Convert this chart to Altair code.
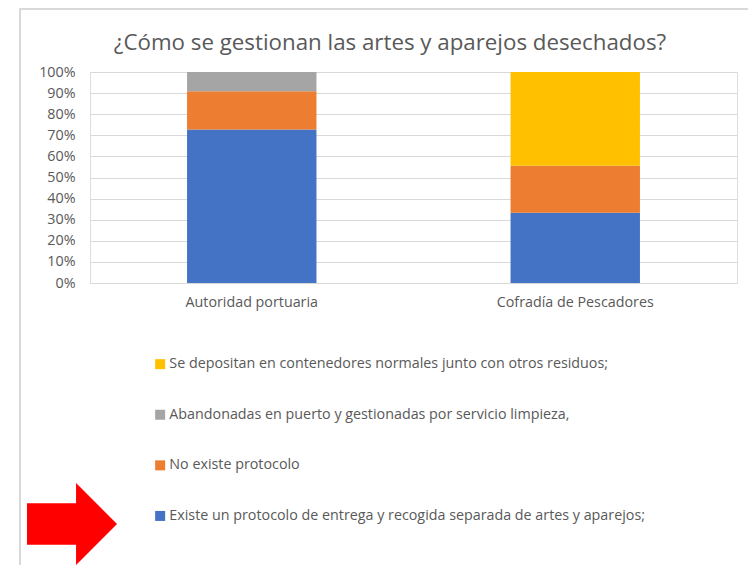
import altair as alt
import pandas as pd

categories = ["Autoridad portuaria", "Cofradía de Pescadores"]
series = [
    "Existe un protocolo de entrega y recogida separada de artes y aparejos;",
    "No existe protocolo",
    "Abandonadas en puerto y gestionadas por servicio limpieza,",
    "Se depositan en contenedores normales junto con otros residuos;",
]
values_existe = [72.7, 33.3]
values_no_existe = [18.2, 22.2]
values_abandonadas = [9.1, 0.0]
values_depositan = [0.0, 44.4]
colors = ["#4472C4", "#ED7D31", "#A5A5A5", "#FFC000"]
title_text = "¿Cómo se gestionan las artes y aparejos desechados?"

all_vals = [values_existe, values_no_existe, values_abandonadas, values_depositan]
rows = []
for si, (name, vals) in enumerate(zip(series, all_vals)):
    for cat, v in zip(categories, vals):
        rows.append({"cat": cat, "serie": name, "valor": v, "orden": si})
df = pd.DataFrame(rows)

legend_domain = list(reversed(series))
legend_range = list(reversed(colors))

FONT = "Open Sans"
TXT = "#595959"
GRID = "#d9d9d9"
FS = 14.3

bars = alt.Chart(df).mark_bar(strokeWidth=0).encode(
    x=alt.X("cat:N", sort=categories, title=None,
            scale=alt.Scale(paddingInner=0.6, paddingOuter=0.3),
            axis=alt.Axis(labelAngle=0, ticks=False, tickSize=0, labelPadding=12,
                          domainColor=GRID, labelFontSize=FS, labelColor=TXT, labelFont=FONT)),
    y=alt.Y("valor:Q", stack="normalize", title=None,
            scale=alt.Scale(domain=[0, 1]),
            axis=alt.Axis(format=".0%", values=[i / 10 for i in range(11)], domain=False,
                          ticks=False, tickSize=0, labelPadding=15, gridColor=GRID,
                          labelFontSize=FS, labelColor=TXT, labelFont=FONT)),
    color=alt.Color("serie:N", scale=alt.Scale(domain=legend_domain, range=legend_range),
                    legend=alt.Legend(title=None, orient="none", legendX=63, legendY=285,
                                      direction="vertical", symbolType="square", symbolSize=100,
                                      symbolStrokeWidth=0, rowPadding=35.6, labelOffset=2,
                                      labelFontSize=FS, labelColor=TXT, labelFont=FONT,
                                      labelLimit=700, padding=0)),
    order=alt.Order("orden:Q"),
)

one = alt.Data(values=[{"t": title_text}])

frame_left = alt.Chart(one).mark_rule(color=GRID, strokeWidth=2).encode(
    x=alt.value(-70), y=alt.value(-64), y2=alt.value(500)
)
frame_top = alt.Chart(one).mark_rule(color=GRID, strokeWidth=2).encode(
    x=alt.value(-70), x2=alt.value(700), y=alt.value(-63)
)

title = alt.Chart(one).mark_text(
    font=FONT, fontSize=22.3, color=TXT, align="center", baseline="alphabetic"
).encode(text="t:N", x=alt.value(300), y=alt.value(-22))

arrow_path = "M -1 -0.46 L 0.09 -0.46 L 0.09 -0.91 L 1 0 L 0.09 0.91 L 0.09 0.46 L -1 0.46 Z"
arrow = alt.Chart(one).mark_point(
    shape=arrow_path, filled=True, color="#FF0000", opacity=1, size=8100, strokeWidth=0
).encode(x=alt.value(-18), y=alt.value(452))

chart = alt.layer(frame_left, frame_top, title, bars, arrow).properties(
    width=647, height=211,
    padding={"left": 82, "top": 64, "right": 11, "bottom": 282},
    autosize=alt.AutoSizeParams(type="none"),
).configure_view(stroke=None).configure(background="white")

chart.save("out.html", embed_options={"renderer": "svg", "actions": False})
